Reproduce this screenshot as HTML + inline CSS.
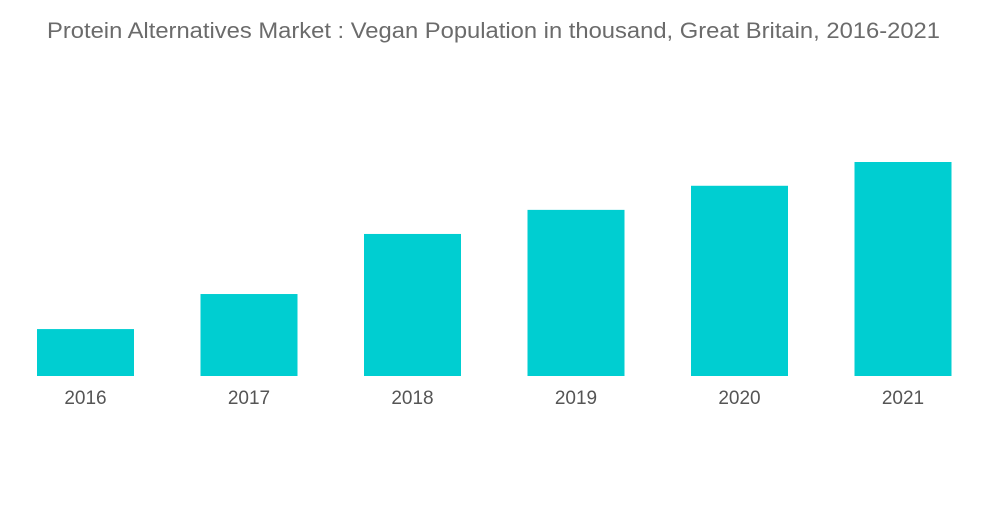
<!DOCTYPE html>
<html><head><meta charset="utf-8"><style>
body{margin:0;background:#fff;width:1000px;height:504px;overflow:hidden;font-family:"Liberation Sans",sans-serif}
</style></head><body>
<svg id="chart" width="1000" height="504" xmlns="http://www.w3.org/2000/svg">
<text x="47" y="38" textLength="893" lengthAdjust="spacingAndGlyphs" font-family="Liberation Sans, sans-serif" font-size="22" fill="#6b6b6b">Protein Alternatives Market  : Vegan Population in thousand, Great Britain, 2016-2021</text>
<g id="bars"></g>
</svg>
<script>
const categories=["2016","2017","2018","2019","2020","2021"];
const values=[150,262,454,531,608,684];
const yMax=684;
const baseY=376, plotH=214, left=3.75, band=163.5, barW=97;
function xScale(i){return left+band*i+band/2;}
function yScale(v){return baseY-v/yMax*plotH;}
const g=document.getElementById('bars');
const ns="http://www.w3.org/2000/svg";
categories.forEach((c,i)=>{
  const r=document.createElementNS(ns,'rect');
  
  
  r.setAttribute('x',xScale(i)-barW/2);
  r.setAttribute('y',yScale(values[i]));
  r.setAttribute('width',barW);
  r.setAttribute('height',baseY-yScale(values[i]));
  r.setAttribute('fill','#00ced1');
  g.appendChild(r);
  const t=document.createElementNS(ns,'text');
  
  
  t.setAttribute('x',xScale(i));
  t.setAttribute('y',404);
  t.setAttribute('text-anchor','middle');
  t.setAttribute('font-size','19');
  t.setAttribute('fill','#555');
  t.setAttribute('font-family','Liberation Sans, sans-serif');
  t.textContent=c;
  g.appendChild(t);
});
</script>
</body></html>
